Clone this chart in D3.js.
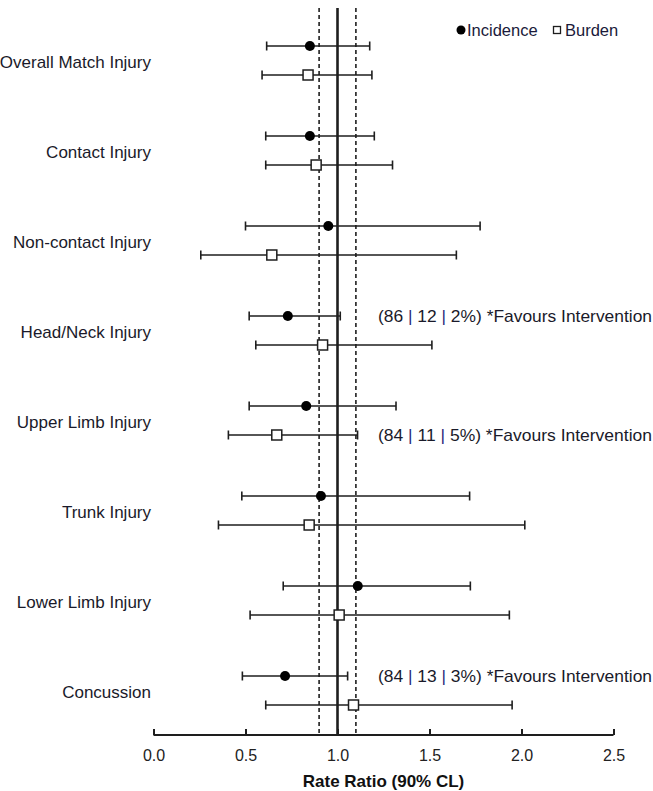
<!DOCTYPE html>
<html><head><meta charset="utf-8">
<script src="https://cdn.jsdelivr.net/npm/d3@7/dist/d3.min.js"></script>
<style>body{margin:0;background:#fff}svg{display:block}text{font-family:"Liberation Sans",Arial,sans-serif}</style>
</head><body><svg id="c" width="653" height="791"></svg>
<script>
const categories = ["Overall Match Injury","Contact Injury","Non-contact Injury","Head/Neck Injury","Upper Limb Injury","Trunk Injury","Lower Limb Injury","Concussion"];
const incidence = [0.85,0.85,0.95,0.73,0.83,0.91,1.11,0.715];
const incidenceLow = [0.615,0.61,0.50,0.52,0.52,0.48,0.705,0.483];
const incidenceHigh = [1.175,1.20,1.775,1.015,1.318,1.718,1.722,1.055];
const burden = [0.84,0.884,0.643,0.919,0.670,0.846,1.009,1.087];
const burdenLow = [0.59,0.61,0.257,0.556,0.407,0.353,0.525,0.61];
const burdenHigh = [1.187,1.299,1.646,1.513,1.109,2.018,1.934,1.949];
const xTicks = [0,0.5,1.0,1.5,2.0,2.5];
const annotations = [
  {cat:"Head/Neck Injury", series:"inc", parts:["(86 "," | ","12"," | ","2%) *Favours Intervention"]},
  {cat:"Upper Limb Injury", series:"bur", parts:["(84 "," | ","11"," | ","5%) *Favours Intervention"]},
  {cat:"Concussion", series:"inc", parts:["(84 "," | ","13"," | ","3%) *Favours Intervention"]}
];
const refLines = [{v:0.9,dash:"4,3",w:1.6},{v:1.1,dash:"4,3",w:1.6},{v:1.0,dash:null,w:2.6}];

const svg = d3.select("#c");
const x = d3.scaleLinear().domain([0,2.5]).range([153.5,613.5]);
const y = d3.scaleBand().domain(categories).range([16,736]);
const axisY = 735;
const incOff = -15, burOff = 14;
const ink = "#1e1e1e";
const txt = "#1a1a2a";

svg.append("g").selectAll("line").data(refLines).join("line")
  .attr("x1",d=>x(d.v)).attr("x2",d=>x(d.v)).attr("y1",8).attr("y2",axisY)
  .attr("stroke",ink).attr("stroke-width",d=>d.w)
  .attr("stroke-dasharray",d=>d.dash);

const axis = d3.axisBottom(x).tickValues(xTicks).tickFormat(d3.format(".1f")).tickSize(-6).tickPadding(15);
const ag = svg.append("g").attr("transform",`translate(0,${axisY})`).call(axis);
ag.select(".domain").attr("stroke",ink).attr("stroke-width",2.2).attr("d",`M${x(0)},0H${x(2.5)}`);
ag.selectAll(".tick line").attr("stroke",ink).attr("stroke-width",2);
ag.selectAll(".tick text").attr("font-size",16).attr("fill","#222").attr("font-family","Liberation Sans, Arial, sans-serif");

svg.append("text").attr("x",(x(0)+x(2.5))/2).attr("y",787).attr("text-anchor","middle")
  .attr("font-size",17).attr("font-weight","bold").attr("fill","#111").text("Rate Ratio (90% CL)");

svg.append("g").selectAll("text").data(categories).join("text")
  .attr("x",151).attr("y",d=>y(d)+y.bandwidth()/2+1).attr("dy","0.35em")
  .attr("text-anchor","end").attr("font-size",17).attr("fill",txt).text(d=>d);

function series(vals, lo, hi, off, kind){
  const g = svg.append("g");
  const rows = categories.map((c,i)=>({c, v:vals[i], lo:lo[i], hi:hi[i], yy:y(c)+y.bandwidth()/2+off}));
  g.selectAll(".bar").data(rows).join("line")
    .attr("x1",d=>x(d.lo)).attr("x2",d=>x(d.hi)).attr("y1",d=>d.yy).attr("y2",d=>d.yy)
    .attr("stroke",ink).attr("stroke-width",1.6);
  ["lo","hi"].forEach(k=>{
    g.selectAll(".cap"+k).data(rows).join("line")
      .attr("x1",d=>x(d[k])).attr("x2",d=>x(d[k])).attr("y1",d=>d.yy-4.5).attr("y2",d=>d.yy+4.5)
      .attr("stroke",ink).attr("stroke-width",1.6);
  });
  if(kind==="circle"){
    g.selectAll("circle").data(rows).join("circle")
      .attr("cx",d=>x(d.v)).attr("cy",d=>d.yy).attr("r",5).attr("fill","#000");
  } else {
    g.selectAll("rect").data(rows).join("rect")
      .attr("x",d=>x(d.v)-5).attr("y",d=>d.yy-5).attr("width",10).attr("height",10)
      .attr("fill","#fff").attr("stroke",ink).attr("stroke-width",1.5);
  }
}
series(incidence, incidenceLow, incidenceHigh, incOff, "circle");
series(burden, burdenLow, burdenHigh, burOff, "square");

annotations.forEach(a=>{
  const t = svg.append("text").attr("x",378)
    .attr("y",y(a.cat)+y.bandwidth()/2+(a.series==="inc"?incOff:burOff)).attr("dy","0.35em")
    .attr("font-size",17).attr("fill",txt).attr("textLength",274).attr("lengthAdjust","spacingAndGlyphs");
  a.parts.forEach(p=>{
    t.append("tspan").attr("fill", p.trim()==="|" ? "#2b2a7a" : txt).text(p);
  });
});

const lg = svg.append("g");
lg.append("circle").attr("cx",461).attr("cy",30).attr("r",4.5).attr("fill","#000");
lg.append("text").attr("x",467).attr("y",30).attr("dy","0.35em").attr("font-size",16.5).attr("fill","#1a1a3a").text("Incidence");
lg.append("rect").attr("x",553.5).attr("y",26.5).attr("width",7).attr("height",7).attr("fill","#fff").attr("stroke",ink).attr("stroke-width",1.3);
lg.append("text").attr("x",565).attr("y",30).attr("dy","0.35em").attr("font-size",16.5).attr("fill","#1a1a3a").text("Burden");
</script></body></html>
